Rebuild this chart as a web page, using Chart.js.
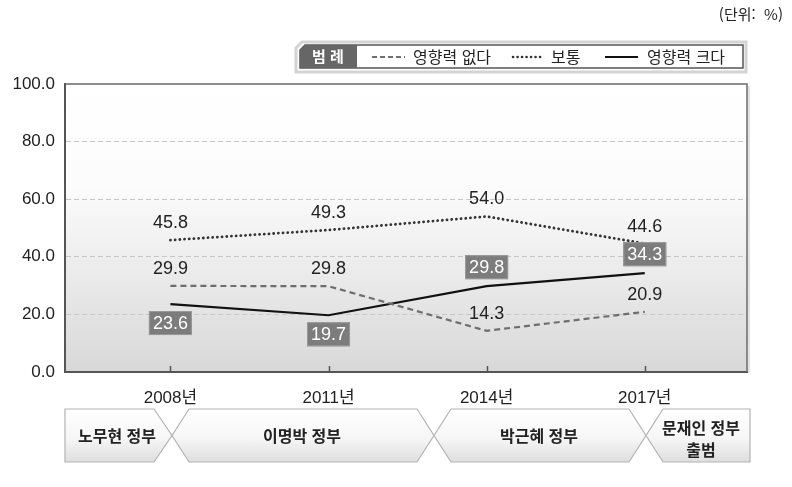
<!DOCTYPE html>
<html lang="ko">
<head>
<meta charset="utf-8">
<title>영향력 추이</title>
<script src="https://cdn.jsdelivr.net/npm/chart.js@4.4.1/dist/chart.umd.min.js"></script>
<style>
  html, body { margin: 0; padding: 0; background: #fff; }
  #wrap { position: relative; width: 792px; height: 487px; overflow: hidden; }
  #chart { position: absolute; left: 0; top: 0; }
  #overlay { position: absolute; left: 0; top: 0; pointer-events: none; }
  #overlay text { font-family: 'Noto Sans CJK KR', 'Liberation Sans', sans-serif; fill: #222; white-space: pre; }
</style>
</head>
<body>
<div id="wrap">
  <canvas id="chart" width="792" height="487"></canvas>
  <svg id="overlay" width="792" height="487" xmlns="http://www.w3.org/2000/svg">
    <defs>
      <linearGradient id="chev" x1="0" y1="0" x2="0" y2="1">
        <stop offset="0" stop-color="#ffffff"/>
        <stop offset="0.55" stop-color="#f6f6f6"/>
        <stop offset="1" stop-color="#dedede"/>
      </linearGradient>
    </defs>
    <text x="783" y="20" text-anchor="end" font-size="15">(단위:&#160; %)</text>

    <!-- legend -->
    <polygon points="302,42 746,42 746,72 296,72 296,48" fill="#fff" stroke="#d4d4d4" stroke-width="3"/>
    <polygon points="305,45 743,45 743,68 300,68 300,50" fill="#fff" stroke="#555" stroke-width="1.5"/>
    <polygon points="305,45 357,45 357,68 300,68 300,50" fill="#666"/>
    <text x="328" y="62" text-anchor="middle" font-size="15" font-weight="bold" style="fill:#fff">범 례</text>
    <line x1="372" y1="57" x2="405" y2="57" stroke="#6e6e6e" stroke-width="2" stroke-dasharray="5,3"/>
    <text x="413" y="62.5" font-size="16">영향력 없다</text>
    <line x1="513" y1="57" x2="543" y2="57" stroke="#333" stroke-width="2.6" stroke-dasharray="0.1,4.4" stroke-linecap="round"/>
    <text x="551" y="62.5" font-size="16">보통</text>
    <line x1="605" y1="57" x2="638" y2="57" stroke="#111" stroke-width="2.2"/>
    <text x="647" y="62.5" font-size="16">영향력 크다</text>

    <!-- government periods -->
    <g fill="url(#chev)" stroke="#b3b3b3" stroke-width="1.2">
      <polygon points="65,409 154,409 172,435.5 154,462 65,462"/>
      <polygon points="189,409 417,409 434,435.5 417,462 189,462 172,435.5"/>
      <polygon points="451,409 629,409 646,435.5 629,462 451,462 434,435.5"/>
      <polygon points="663,409 750,409 750,462 663,462 646,435.5"/>
    </g>
    <g font-size="16" font-weight="bold" text-anchor="middle">
      <text id="g0" x="117" y="442"></text>
      <text id="g1" x="302" y="442"></text>
      <text id="g2" x="539" y="442"></text>
      <text id="g3a" x="701" y="434"></text>
      <text id="g3b" x="701" y="456"></text>
    </g>
  </svg>
</div>
<script>
const years = [2008, 2011, 2014, 2017];
const yearLabels = ['2008년', '2011년', '2014년', '2017년'];
const seriesNames = ['영향력 없다', '보통', '영향력 크다'];
const noEffect = [29.9, 29.8, 14.3, 20.9];
const normal = [45.8, 49.3, 54.0, 44.6];
const bigEffect = [23.6, 19.7, 29.8, 34.3];
const yTicks = [0, 20, 40, 60, 80, 100];
const govNames = ['노무현 정부', '이명박 정부', '박근혜 정부', '문재인 정부', '출범'];

['g0', 'g1', 'g2', 'g3a', 'g3b'].forEach((id, i) => {
  document.getElementById(id).textContent = govNames[i];
});

const FONT = "'Liberation Sans', 'Noto Sans CJK KR', sans-serif";
Chart.defaults.font.family = FONT;
Chart.defaults.color = '#222';

function points(vals) {
  return years.map((yr, i) => ({ x: yr, y: vals[i] }));
}

// plot background + top/right frame + inner ticks
const frame = {
  id: 'frame',
  beforeDraw(chart) {
    const { ctx, chartArea: a } = chart;
    const g = ctx.createLinearGradient(0, a.top, 0, a.bottom);
    g.addColorStop(0, '#ffffff');
    g.addColorStop(0.35, '#fcfcfc');
    g.addColorStop(1, '#d8d8d8');
    ctx.save();
    ctx.fillStyle = g;
    ctx.fillRect(a.left, a.top, a.right - a.left, a.bottom - a.top);
    ctx.restore();
  },
  afterDraw(chart) {
    const { ctx, chartArea: a } = chart;
    const xs = chart.scales.x;
    ctx.save();
    ctx.strokeStyle = '#e2e2e2';
    ctx.lineWidth = 2;
    ctx.beginPath();
    ctx.moveTo(a.right + 2, a.top + 2);
    ctx.lineTo(a.right + 2, a.bottom + 1);
    ctx.stroke();
    ctx.strokeStyle = '#6a6a6a';
    ctx.lineWidth = 1.5;
    ctx.beginPath();
    ctx.moveTo(a.left, a.top);
    ctx.lineTo(a.right, a.top);
    ctx.lineTo(a.right, a.bottom);
    ctx.stroke();
    // y axis line (solid) and inner x ticks
    ctx.strokeStyle = '#555';
    ctx.lineWidth = 2;
    ctx.beginPath();
    ctx.moveTo(a.left, a.top);
    ctx.lineTo(a.left, a.bottom);
    ctx.stroke();
    ctx.lineWidth = 1.5;
    years.forEach(v => {
      const x = Math.round(xs.getPixelForValue(v)) + 0.5;
      ctx.beginPath();
      ctx.moveTo(x, a.bottom);
      ctx.lineTo(x, a.bottom - 6);
      ctx.stroke();
    });
    ctx.restore();
  }
};

// value labels
const valueLabels = {
  id: 'valueLabels',
  afterDatasetsDraw(chart) {
    const { ctx } = chart;
    ctx.save();
    ctx.font = '18px ' + FONT;
    ctx.textAlign = 'center';
    ctx.textBaseline = 'middle';
    chart.data.datasets.forEach((ds, di) => {
      const meta = chart.getDatasetMeta(di);
      meta.data.forEach((pt, i) => {
        const txt = ds.data[i].y.toFixed(1);
        const pos = ds.labelPos[i];
        if (ds.boxed) {
          const cy = pos === 'below' ? pt.y + 19 : pt.y - 19;
          const w = 43, h = 24;
          ctx.fillStyle = '#7c7c7c';
          ctx.fillRect(pt.x - w / 2, cy - h / 2, w, h);
          ctx.strokeStyle = '#9a9a9a';
          ctx.lineWidth = 1;
          ctx.strokeRect(pt.x - w / 2 + 0.5, cy - h / 2 + 0.5, w - 1, h - 1);
          ctx.fillStyle = '#fff';
          ctx.fillText(txt, pt.x, cy + 1);
        } else {
          ctx.fillStyle = '#222';
          ctx.fillText(txt, pt.x, pt.y - 17);
        }
      });
    });
    ctx.restore();
  }
};

new Chart(document.getElementById('chart'), {
  type: 'line',
  data: {
    datasets: [
      {
        label: seriesNames[0], data: points(noEffect),
        borderColor: '#6e6e6e', borderWidth: 2.2, borderDash: [6, 4],
        labelPos: ['above', 'above', 'above', 'above']
      },
      {
        label: seriesNames[1], data: points(normal),
        borderColor: '#333', borderWidth: 2.8, borderDash: [0.1, 4.6], borderCapStyle: 'round',
        labelPos: ['above', 'above', 'above', 'above']
      },
      {
        label: seriesNames[2], data: points(bigEffect),
        borderColor: '#111', borderWidth: 2.2, boxed: true,
        labelPos: ['below', 'below', 'above', 'above']
      }
    ]
  },
  options: {
    responsive: false,
    animation: false,
    devicePixelRatio: 1,
    layout: { padding: { top: 84, right: 45, left: 0, bottom: 0 } },
    elements: { point: { radius: 0 }, line: { tension: 0 } },
    plugins: { legend: { display: false }, tooltip: { enabled: false } },
    scales: {
      x: {
        type: 'linear', min: 2006, max: 2018.94,
        afterBuildTicks: s => { s.ticks = years.map(v => ({ value: v })); },
        afterFit: s => { s.height = 115; },
        ticks: {
          callback: v => yearLabels[years.indexOf(v)],
          font: { size: 17 }, color: '#222', padding: 8, maxRotation: 0
        },
        grid: { display: false },
        border: { color: '#555', width: 2 }
      },
      y: {
        min: 0, max: 100,
        afterBuildTicks: s => { s.ticks = yTicks.map(v => ({ value: v })); },
        afterFit: s => { s.width = 65; },
        ticks: { callback: v => v.toFixed(1), font: { size: 17 }, color: '#222', padding: 10 },
        grid: {
          drawTicks: false,
          color: c => (c.tick.value === 0 || c.tick.value === 100) ? 'rgba(0,0,0,0)' : '#c6c6c6',
          lineWidth: 1
        },
        border: { color: '#555', width: 2, dash: [5, 3] }
      }
    }
  },
  plugins: [frame, valueLabels]
});
</script>
</body>
</html>
